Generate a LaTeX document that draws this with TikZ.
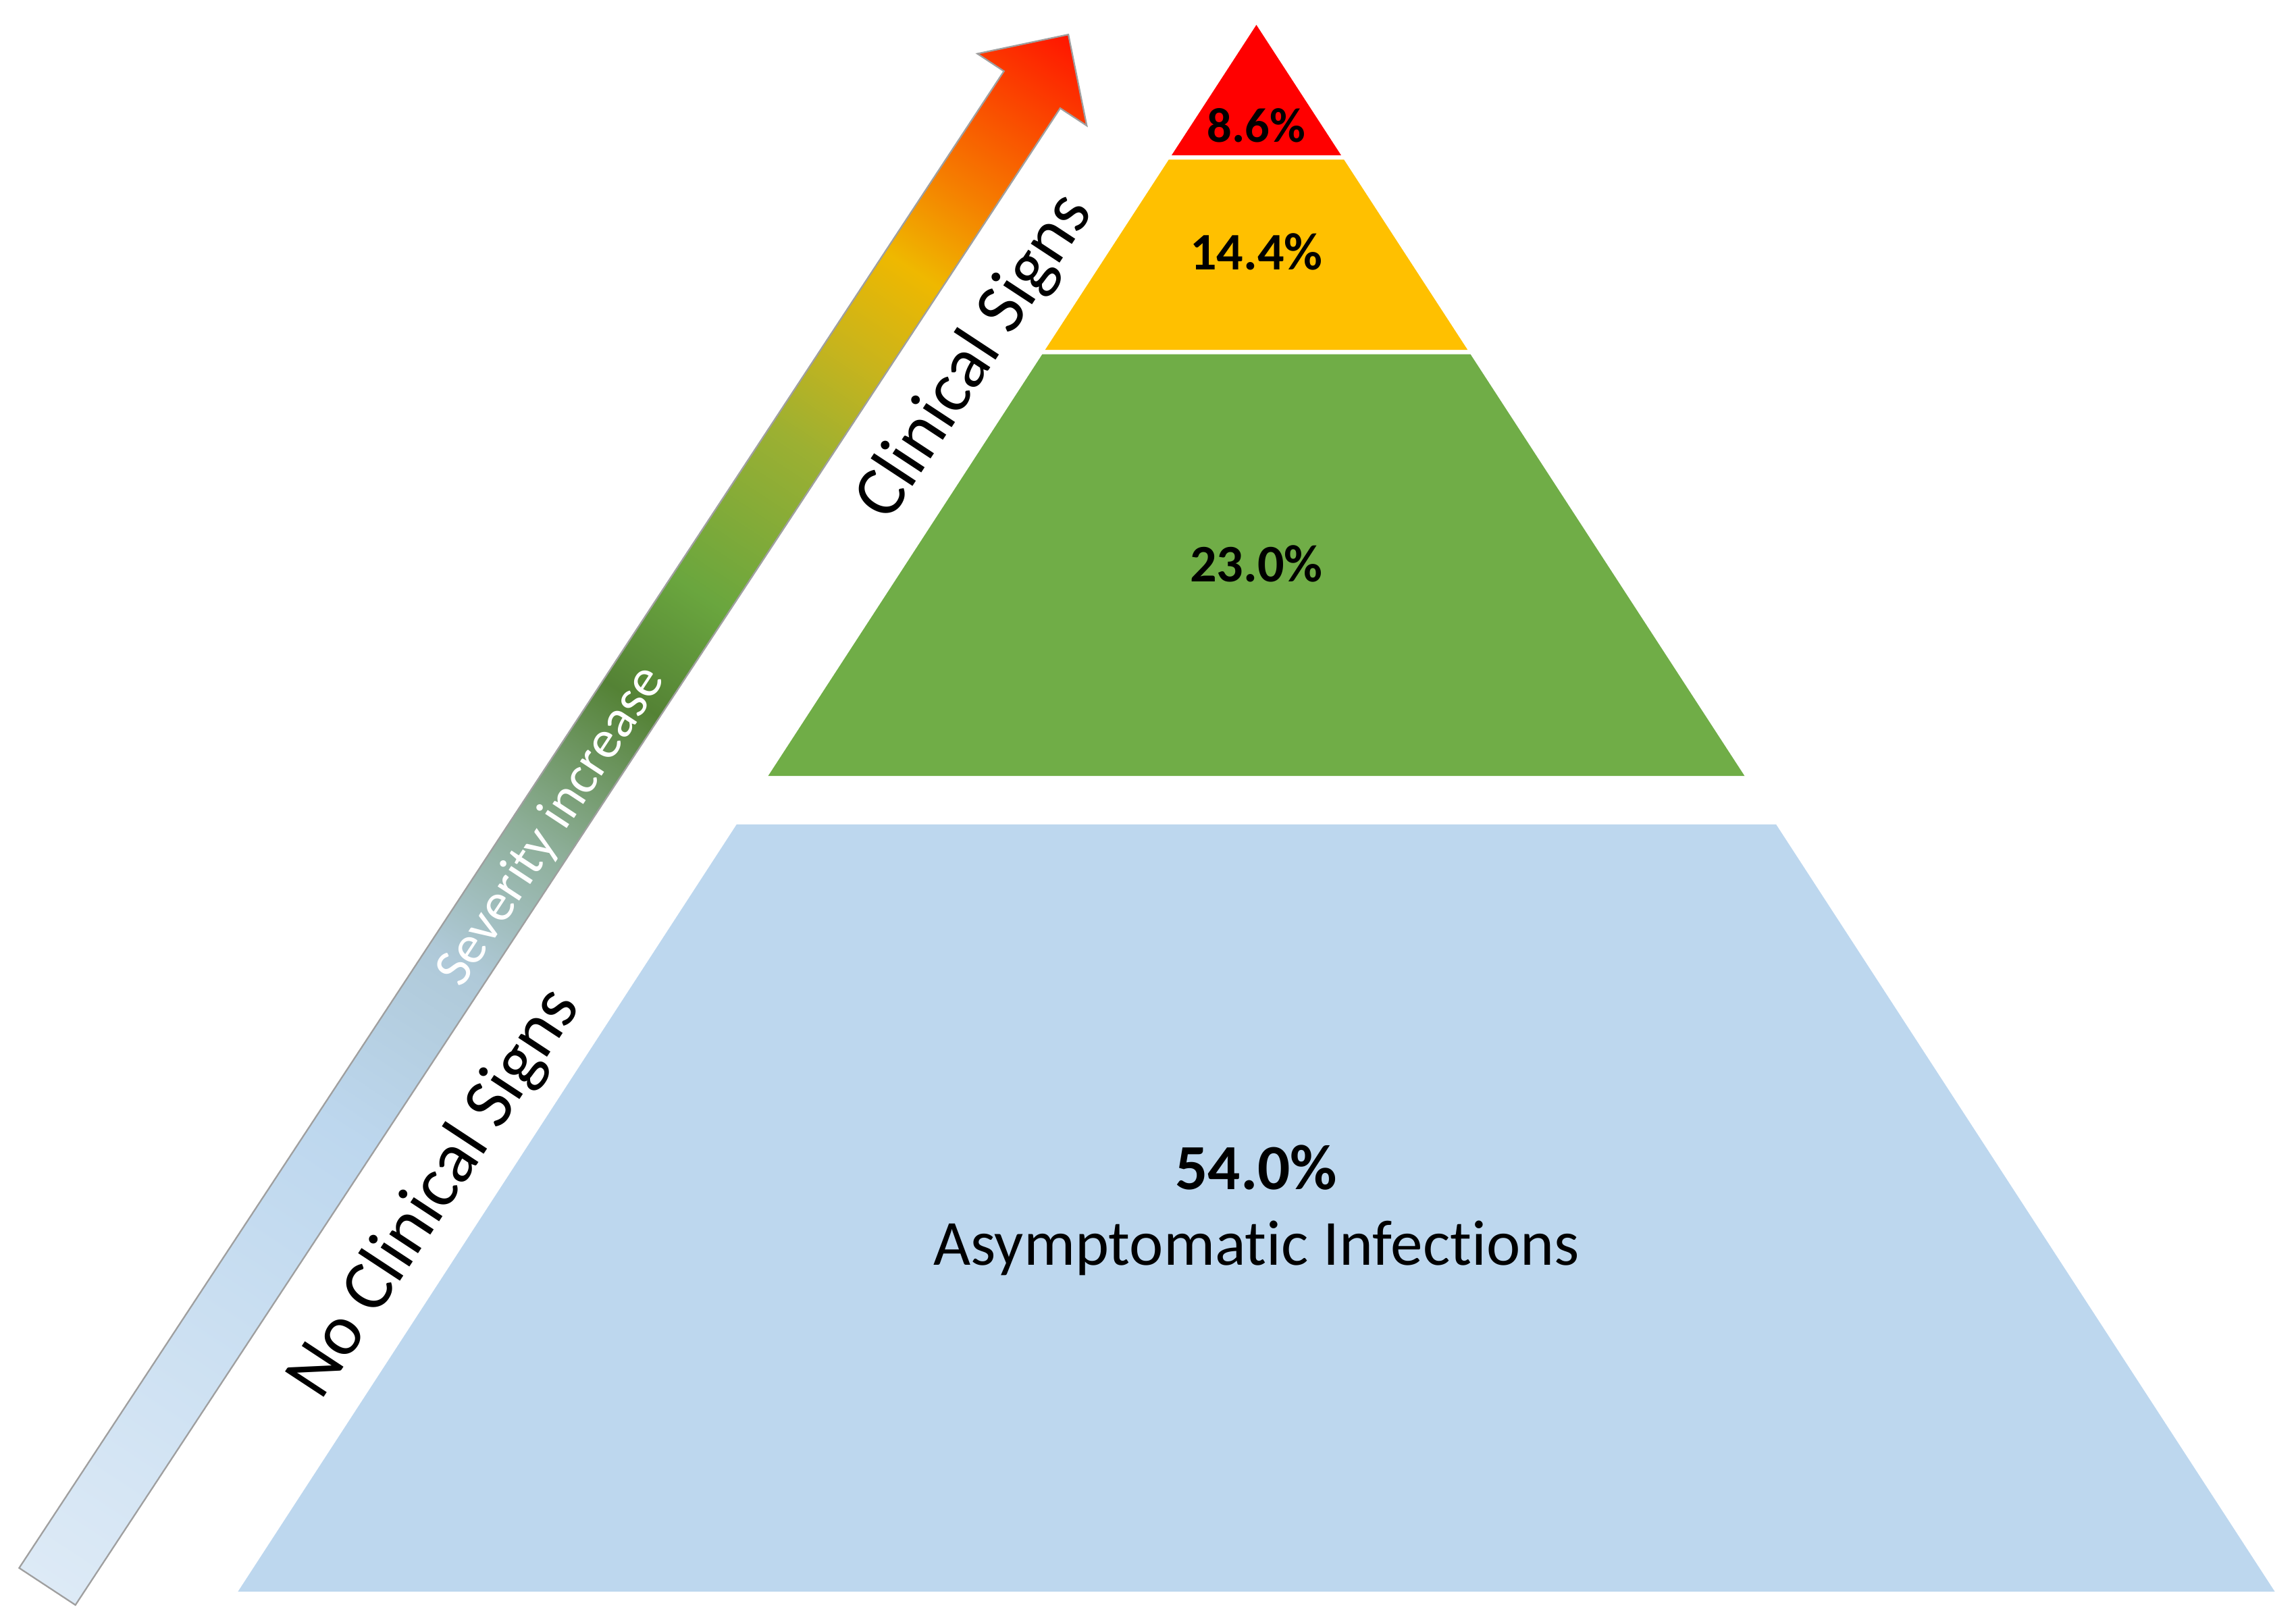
\documentclass[tikz,border=0pt]{standalone}
\usepackage{fontspec}
\setmainfont{Carlito}[Ligatures={NoCommon}]
\definecolor{sevred}{HTML}{FF0000}
\definecolor{sevgold}{HTML}{FFC000}
\definecolor{sevgreen}{HTML}{70AD47}
\definecolor{sevblue}{HTML}{BDD7EE}
\definecolor{sa}{HTML}{DDEAF6}
\definecolor{sb}{HTML}{BDD7EE}
\definecolor{sc}{HTML}{AFC9D8}
\definecolor{sd}{HTML}{8DAE98}
\definecolor{se}{HTML}{548235}
\definecolor{sf}{HTML}{6AA63E}
\definecolor{sg}{HTML}{9CB032}
\definecolor{sh}{HTML}{C8B41C}
\definecolor{si}{HTML}{EFB800}
\definecolor{sj}{HTML}{F57F00}
\definecolor{sk}{HTML}{FF1500}
\pgfdeclarehorizontalshading{severity}{100bp}{color(0bp)=(sa); color(25bp)=(sa);
  color(39.6bp)=(sb); color(45.1bp)=(sc); color(49.1bp)=(sd); color(53.6bp)=(se);
  color(57bp)=(sf); color(61.8bp)=(sg); color(64.6bp)=(sh); color(67.4bp)=(si);
  color(69.9bp)=(sj); color(75bp)=(sk); color(100bp)=(sk)}
\begin{document}
\begin{tikzpicture}[x=0.2mm,y=-0.2mm,
    pct/.style={font=\fontsize{20.5}{24}\selectfont\bfseries,anchor=base},
    signlbl/.style={font=\fontsize{28}{34}\selectfont},
    sevlbl/.style={font=\fontsize{21}{25}\selectfont,text=white}]
\useasboundingbox (0,0) rectangle (1568,1109);
% pyramid
\fill[sevred] (858,17) -- (915.85,106) -- (800.15,106) -- cycle;
\fill[sevgold] (798.2,109) -- (917.8,109) -- (1002.3,239) -- (713.7,239) -- cycle;
\fill[sevgreen] (711.75,242) -- (1004.25,242) -- (1191.45,530) -- (524.55,530) -- cycle;
\fill[sevblue] (503.1,563) -- (1212.9,563) -- (1553.5,1087) -- (162.5,1087) -- cycle;
\node[pct,font=\fontsize{19}{23}\selectfont\bfseries] (p86) at (858,97) {8.6\%};
\node[pct] (p144) at (858,184.4) {14.4\%};
\node[pct] (p230) at (858,397.4) {23.0\%};
\node[pct,font=\fontsize{25}{30}\selectfont\bfseries] (p540) at (858,812.4) {54.0\%};
\node[anchor=base,font=\fontsize{25}{30}\selectfont] (asym) at (858,864) {Asymptomatic Infections};
% arrow
\begin{scope}[transform canvas={shift={(32.3,1083.5)},rotate=56.66}]
  \shadedraw[shading=severity,draw=gray!75,line width=0.6pt]
    (0,-23) -- (1223.7,-23) -- (1223.7,-44.7) -- (1268.8,0)
    -- (1223.7,44.7) -- (1223.7,23) -- (0,23) -- cycle;
  \node[sevlbl] (sev) at (623,2.5) {Severity increase};
  \node[signlbl] (clin) at (1050,68) {Clinical Signs};
  \node[signlbl] (noclin) at (370,74) {No Clinical Signs};
\end{scope}
\end{tikzpicture}
\end{document}
